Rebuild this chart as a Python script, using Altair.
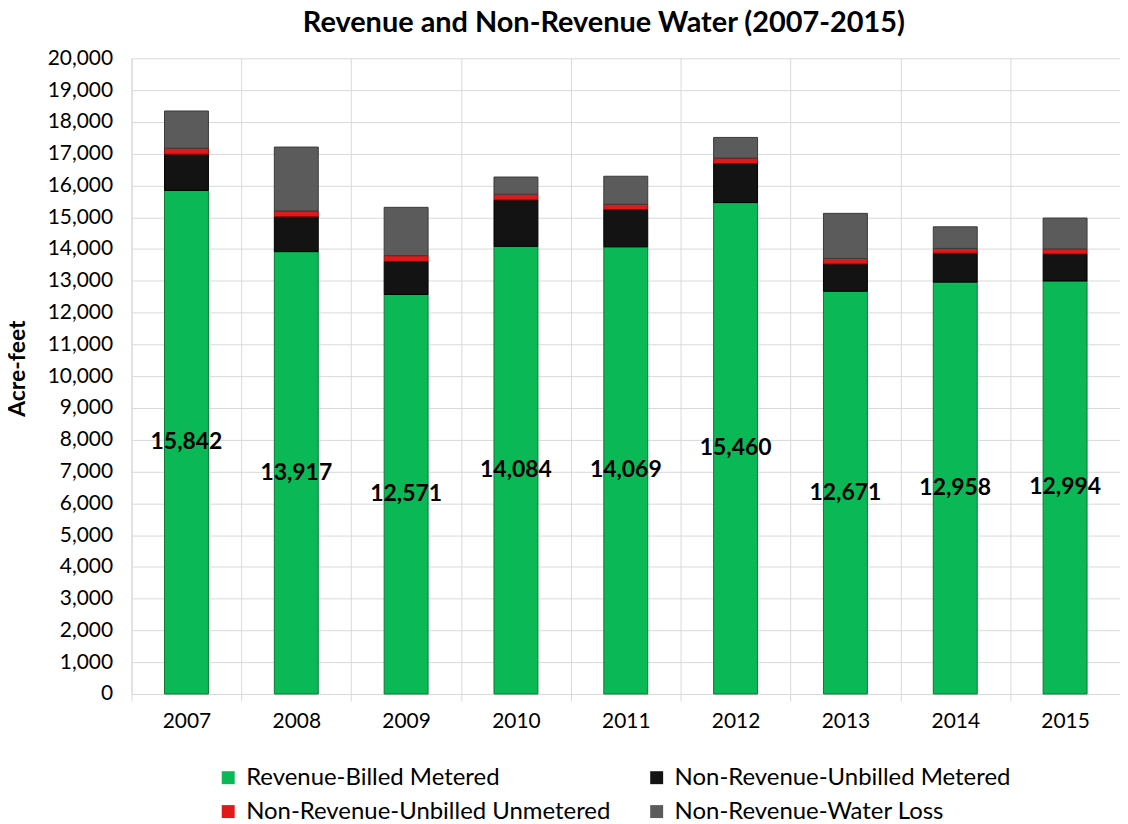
import altair as alt
import pandas as pd

years = ["2007", "2008", "2009", "2010", "2011", "2012", "2013", "2014", "2015"]
billed_metered = [15842, 13917, 12571, 14084, 14069, 15460, 12671, 12958, 12994]
unbilled_metered = [1140, 1100, 1040, 1460, 1170, 1230, 860, 910, 850]
unbilled_unmetered = [190, 180, 180, 180, 170, 170, 170, 150, 160]
water_loss = [1170, 2010, 1520, 540, 880, 650, 1420, 680, 970]

# stacking order (bottom to top)
series = [
    "Revenue-Billed Metered",
    "Non-Revenue-Unbilled Metered",
    "Non-Revenue-Unbilled Unmetered",
    "Non-Revenue-Water Loss",
]
# legend order (column-major layout of a 2-column legend)
legend_order = [
    "Revenue-Billed Metered",
    "Non-Revenue-Unbilled Unmetered",
    "Non-Revenue-Unbilled Metered",
    "Non-Revenue-Water Loss",
]
fills = ["#0ab955", "#e01a1a", "#131313", "#5b5b5b"]
strokes = ["#077a38", "#8a0b0b", "#000000", "#3a3a3a"]

rows = []
for i, yr in enumerate(years):
    for k, (s, vals) in enumerate(zip(series, [billed_metered, unbilled_metered, unbilled_unmetered, water_loss])):
        rows.append({"Year": yr, "Series": s, "Value": vals[i], "k": k})
df = pd.DataFrame(rows)
lab = pd.DataFrame({"Year": years, "Billed": billed_metered})

grid_c = "#d9d9d9"

x_enc = alt.X(
    "Year:N",
    scale=alt.Scale(paddingInner=0, paddingOuter=0),
    axis=alt.Axis(
        title=None, tickBand="extent", grid=True, gridColor=grid_c, domainColor=grid_c,
        tickColor=grid_c, tickSize=7, labelFont="Lato", labelFontSize=21, labelColor="#000000",
        labelPadding=10, labelAngle=0,
    ),
)

y_axis = alt.Axis(
    values=list(range(0, 20001, 1000)), format=",.0f", title="Acre-feet",
    titleFont="Lato", titleFontSize=23, titleFontWeight="bold", titleColor="#000000",
    titleX=-102, titleY=311, titleAngle=270,
    labelFont="Lato", labelFontSize=21, labelColor="#000000", labelPadding=19,
    ticks=False, grid=True, gridColor=grid_c, domainColor=grid_c,
)

bars = alt.Chart(df).mark_bar(width=alt.RelativeBandSize(0.4), strokeWidth=1).encode(
    x=x_enc,
    y=alt.Y("Value:Q", stack="zero", scale=alt.Scale(domain=[0, 20000], nice=False), axis=y_axis),
    fill=alt.Fill(
        "Series:N", scale=alt.Scale(domain=legend_order, range=fills),
        legend=alt.Legend(
            title=None, orient="none", legendX=85, legendY=710, columns=2,
            labelFont="Lato", labelFontSize=24, labelColor="#000000", symbolType="square",
            symbolSize=169, columnPadding=34, rowPadding=10, labelOffset=6,
            symbolStrokeWidth=0, labelLimit=600,
        ),
    ),
    stroke=alt.Stroke("Series:N", scale=alt.Scale(domain=legend_order, range=strokes), legend=None),
    order=alt.Order("k:Q", sort="ascending"),
)

text = alt.Chart(lab).transform_calculate(mid="datum.Billed / 2").mark_text(
    font="Lato", fontWeight="bold", fontSize=23, color="#000000"
).encode(
    x=alt.X("Year:N"),
    y=alt.Y("mid:Q", axis=y_axis),
    text=alt.Text("Billed:Q", format=",.0f"),
)

chart = alt.layer(bars, text).properties(
    width=992,
    height=638,
    title=alt.TitleParams(
        "Revenue and Non-Revenue Water (2007-2015)", font="Lato", fontSize=29,
        fontWeight="bold", anchor="middle", dx=-22, offset=9, color="#000000",
    ),
    autosize=alt.AutoSizeParams(type="none"),
    padding={"left": 124, "top": 49, "right": 0, "bottom": 129},
).configure_view(stroke=None)

chart.save("out.html", embed_options={"renderer": "svg", "actions": False})
